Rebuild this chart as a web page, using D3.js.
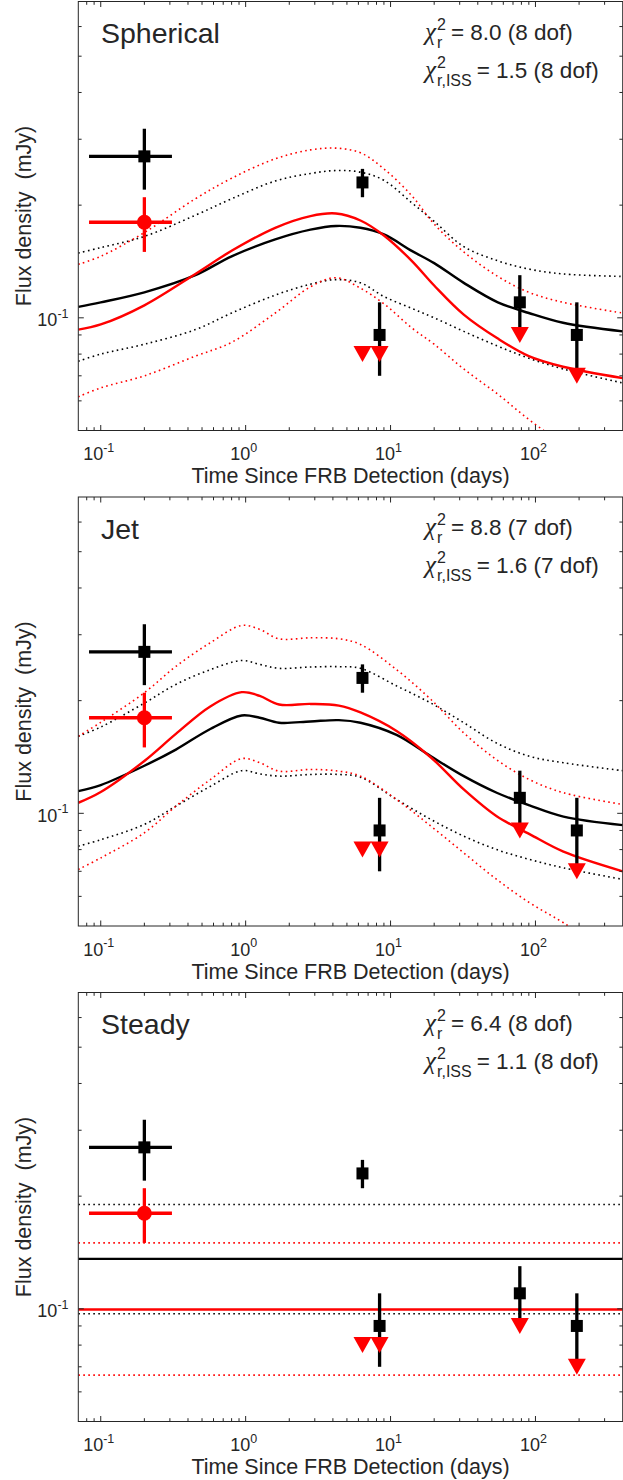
<!DOCTYPE html>
<html lang="en">
<head>
<meta charset="UTF-8" />
<title>FRB afterglow fits</title>
<style>
    body { margin: 0; background: #fff; }
    svg text { font-family: "Liberation Sans", Arial, Helvetica, sans-serif; fill: #262626; }
    .chi { font-family: "Liberation Serif", "DejaVu Serif", serif; font-style: italic; }
</style>
</head>
<body>
<svg id="chart" width="623" height="1480"></svg>
<script src="https://d3js.org/d3.v7.min.js"></script>
<script>
// observed points (mJy), black = measured, red = ISS-corrected
const detT = [0.2, 6.4, 8.4, 78, 193];
const detFlux = [0.27, 0.23, 0.09, 0.11, 0.09];
const detErr = [0.05, 0.02, 0.02, 0.02, 0.02];
const firstTRange = [0.083, 0.31];
const issDetT = [0.2];
const issDetFlux = [0.18];
const issDetErr = [0.03];
const issLimT = [6.4, 8.4, 78, 193];
const issLimFlux = [0.08, 0.08, 0.09, 0.07];

// spherical model
const sphT = [0.07, 0.1, 0.2, 0.45, 0.8, 1.6, 2.8, 4.2, 6.2, 9, 14, 20, 32, 55, 90, 155, 400];
const sphFit = [0.107, 0.110, 0.117, 0.130, 0.146, 0.162, 0.172, 0.176, 0.174, 0.167, 0.151, 0.140, 0.124, 0.110, 0.103, 0.097, 0.092];
const sphFitHi = [0.149, 0.154, 0.165, 0.188, 0.208, 0.232, 0.243, 0.2475, 0.245, 0.233, 0.203, 0.181, 0.155, 0.142, 0.135, 0.131, 0.129];
const sphFitLo = [0.0766, 0.080, 0.085, 0.093, 0.103, 0.115, 0.123, 0.1265, 0.124, 0.114, 0.106, 0.100, 0.092, 0.084, 0.078, 0.073, 0.067];
const sphIss = [0.093, 0.096, 0.108, 0.131, 0.151, 0.174, 0.187, 0.190, 0.182, 0.166, 0.142, 0.122, 0.102, 0.088, 0.079, 0.074, 0.069];
const sphIssHi = [0.139, 0.146, 0.169, 0.208, 0.236, 0.266, 0.281, 0.284, 0.276, 0.250, 0.212, 0.178, 0.150, 0.129, 0.117, 0.110, 0.103];
const sphIssLo = [0.0615, 0.065, 0.070, 0.079, 0.086, 0.103, 0.121, 0.128, 0.120, 0.109, 0.094, 0.085, 0.073, 0.0625, 0.0535, 0.046, 0.036];

// jet model
const jetT = [0.07, 0.1, 0.2, 0.33, 0.57, 0.94, 1.25, 1.7, 2.8, 4.4, 6.2, 11, 19, 32, 54, 91, 156, 400];
const jetFit = [0.1146, 0.119, 0.134, 0.148, 0.168, 0.1826, 0.180, 0.1746, 0.176, 0.1774, 0.1746, 0.162, 0.142, 0.1257, 0.1135, 0.105, 0.098, 0.093];
const jetFitHi = [0.1607, 0.170, 0.197, 0.221, 0.242, 0.256, 0.250, 0.244, 0.246, 0.2465, 0.244, 0.219, 0.197, 0.1746, 0.154, 0.142, 0.1365, 0.130];
const jetFitLo = [0.0817, 0.085, 0.0934, 0.1045, 0.118, 0.130, 0.1275, 0.1257, 0.127, 0.127, 0.1249, 0.1089, 0.0963, 0.0869, 0.080, 0.0753, 0.0715, 0.0666];
const jetIss = [0.1067, 0.114, 0.138, 0.163, 0.193, 0.2107, 0.206, 0.1953, 0.196, 0.194, 0.186, 0.166, 0.141, 0.1158, 0.0982, 0.088, 0.079, 0.070];
const jetIssHi = [0.1607, 0.175, 0.210, 0.247, 0.2855, 0.3176, 0.310, 0.2926, 0.2944, 0.2926, 0.2826, 0.242, 0.2014, 0.164, 0.139, 0.123, 0.1135, 0.1056];
const jetIssLo = [0.0708, 0.076, 0.0887, 0.1045, 0.123, 0.140, 0.1365, 0.1296, 0.131, 0.1296, 0.1257, 0.1089, 0.0924, 0.0784, 0.0666, 0.0577, 0.051, 0.040];

// steady model (flat levels)
const steadyT = [0.07, 400];
const steadyFit = [0.136, 0.136];
const steadyFitHi = [0.19, 0.19];
const steadyFitLo = [0.097, 0.097];
const steadyIss = [0.0996, 0.0996];
const steadyIssHi = [0.15, 0.15];
const steadyIssLo = [0.0665, 0.0665];

const panelNames = ['Spherical', 'Jet', 'Steady'];
const chiFit = ['8.0', '8.8', '6.4'];
const chiIss = ['1.5', '1.6', '1.1'];
const dof = [8, 7, 8];

const xTicks = [0.1, 1, 10, 100];
const xTickExp = ['-1', '0', '1', '2'];
const yTicks = [0.1];
const yTickExp = ['-1'];

const models = [
    { t: sphT, fit: sphFit, fitHi: sphFitHi, fitLo: sphFitLo, iss: sphIss, issHi: sphIssHi, issLo: sphIssLo },
    { t: jetT, fit: jetFit, fitHi: jetFitHi, fitLo: jetFitLo, iss: jetIss, issHi: jetIssHi, issLo: jetIssLo },
    { t: steadyT, fit: steadyFit, fitHi: steadyFitHi, fitLo: steadyFitLo, iss: steadyIss, issHi: steadyIssHi, issLo: steadyIssLo }
];

const svg = d3.select('#chart');
const left = 78.3, right = 622.7, plotH = 429;
const tops = [1.5, 497, 992.5];
const x = d3.scaleLog().domain([0.07, 400]).range([left, right]);

const xMinor = [];
[0.01, 0.1, 1, 10, 100].forEach((d) => {
    for (let k = 2; k <= 9; k++) {
        const v = k * d;
        if (v > 0.07 && v < 400) xMinor.push(v);
    }
});
const yMinor = [0.06, 0.07, 0.08, 0.09, 0.2, 0.3, 0.4, 0.5, 0.6];

panelNames.forEach((name, i) => {
    const top = tops[i];
    const m = models[i];
    const y = d3.scaleLog().domain([0.05, 0.7]).range([top + plotH, top]);
    const g = svg.append('g');

    g.append('clipPath').attr('id', 'clip' + i)
        .append('rect').attr('x', left).attr('y', top).attr('width', right - left).attr('height', plotH);

    const curves = g.append('g').attr('clip-path', `url(#clip${i})`);
    const line = (vals) => d3.line()
        .x((d, j) => x(m.t[j]))
        .y((d) => y(d))
        .curve(d3.curveCatmullRom.alpha(0.5))(vals);

    [['fitHi', '#000', true], ['fitLo', '#000', true], ['issHi', '#f00', true], ['issLo', '#f00', true],
     ['fit', '#000', false], ['iss', '#f00', false]].forEach(([key, col, dotted]) => {
        curves.append('path')
            .attr('d', line(m[key]))
            .attr('fill', 'none')
            .attr('stroke', col)
            .attr('stroke-width', dotted ? 1.6 : 2.4)
            .attr('stroke-dasharray', dotted ? '1.6,3.4' : null);
    });

    // measured points
    const pts = g.append('g');
    detT.forEach((t, j) => {
        pts.append('line')
            .attr('x1', x(t)).attr('x2', x(t))
            .attr('y1', y(detFlux[j] + detErr[j])).attr('y2', y(detFlux[j] - detErr[j]))
            .attr('stroke', '#000').attr('stroke-width', 3.3);
        if (j === 0) {
            pts.append('line')
                .attr('x1', x(firstTRange[0])).attr('x2', x(firstTRange[1]))
                .attr('y1', y(detFlux[j])).attr('y2', y(detFlux[j]))
                .attr('stroke', '#000').attr('stroke-width', 3.3);
        }
        pts.append('rect')
            .attr('x', x(t) - 6).attr('y', y(detFlux[j]) - 6)
            .attr('width', 12).attr('height', 12).attr('fill', '#000');
    });

    // ISS-corrected points
    issDetT.forEach((t, j) => {
        pts.append('line')
            .attr('x1', x(t)).attr('x2', x(t))
            .attr('y1', y(issDetFlux[j] + issDetErr[j])).attr('y2', y(issDetFlux[j] - issDetErr[j]))
            .attr('stroke', '#f00').attr('stroke-width', 3.3);
        pts.append('line')
            .attr('x1', x(firstTRange[0])).attr('x2', x(firstTRange[1]))
            .attr('y1', y(issDetFlux[j])).attr('y2', y(issDetFlux[j]))
            .attr('stroke', '#f00').attr('stroke-width', 3.3);
        pts.append('circle')
            .attr('cx', x(t)).attr('cy', y(issDetFlux[j])).attr('r', 7.5).attr('fill', '#f00');
    });
    issLimT.forEach((t, j) => {
        pts.append('path')
            .attr('transform', `translate(${x(t)},${y(issLimFlux[j])})`)
            .attr('d', 'M-9,-8L9,-8L0,8Z')
            .attr('fill', '#f00');
    });

    // frame and ticks
    g.append('rect')
        .attr('x', left).attr('y', top).attr('width', right - left).attr('height', plotH)
        .attr('fill', 'none').attr('stroke', '#262626').attr('stroke-width', 1);

    const tk = g.append('g').attr('stroke', '#262626').attr('stroke-width', 1);
    const xTick = (v, len) => {
        tk.append('line').attr('x1', x(v)).attr('x2', x(v)).attr('y1', top + plotH).attr('y2', top + plotH - len);
        tk.append('line').attr('x1', x(v)).attr('x2', x(v)).attr('y1', top).attr('y2', top + len);
    };
    const yTick = (v, len) => {
        tk.append('line').attr('x1', left).attr('x2', left + len).attr('y1', y(v)).attr('y2', y(v));
        tk.append('line').attr('x1', right).attr('x2', right - len).attr('y1', y(v)).attr('y2', y(v));
    };
    xTicks.forEach((v) => xTick(v, 5.5));
    xMinor.forEach((v) => xTick(v, 3.3));
    yTicks.forEach((v) => yTick(v, 5.5));
    yMinor.forEach((v) => yTick(v, 3.3));

    xTicks.forEach((v, j) => {
        const t = g.append('text')
            .attr('x', x(v) - 2).attr('y', top + plotH + 29.5)
            .attr('text-anchor', 'middle').style('font-size', '18px').text('10');
        t.append('tspan').attr('dy', -8.5).style('font-size', '12.5px').text(xTickExp[j]);
    });
    yTicks.forEach((v, j) => {
        const t = g.append('text')
            .attr('x', 68.5).attr('y', y(v) + 8.5)
            .attr('text-anchor', 'end').style('font-size', '18px').text('10');
        t.append('tspan').attr('dy', -8.5).style('font-size', '12.5px').text(yTickExp[j]);
    });

    g.append('text')
        .attr('x', (left + right) / 2).attr('y', top + plotH + 52.5)
        .attr('text-anchor', 'middle').style('font-size', '21.5px')
        .text('Time Since FRB Detection (days)');
    g.append('text')
        .attr('transform', `translate(31,${top + plotH / 2}) rotate(-90)`)
        .attr('text-anchor', 'middle').style('font-size', '21.5px').style('white-space', 'pre')
        .text('Flux density  (mJy)');

    g.append('text')
        .attr('x', 101).attr('y', top + 41.5).style('font-size', '28.5px').text(name);

    const chiLine = (yb, sub, val) => {
        const c = g.append('text').attr('class', 'chi').attr('x', 425).attr('y', yb)
            .style('font-size', '25px').text('χ');
        const cx = 425 + c.node().getComputedTextLength() + 1;
        const sp = g.append('text').attr('x', cx).attr('y', yb - 10).style('font-size', '16px').text('2');
        const sb = g.append('text').attr('x', cx).attr('y', yb + 8).style('font-size', '16px').text(sub);
        const w = Math.max(sp.node().getComputedTextLength(), sb.node().getComputedTextLength());
        g.append('text').attr('x', cx + w + 5).attr('y', yb).style('font-size', '22.5px')
            .text(`= ${val} (${dof[i]} dof)`);
    };
    chiLine(top + 38, 'r', chiFit[i]);
    chiLine(top + 76, 'r,ISS', chiIss[i]);
});
</script>
</body>
</html>
